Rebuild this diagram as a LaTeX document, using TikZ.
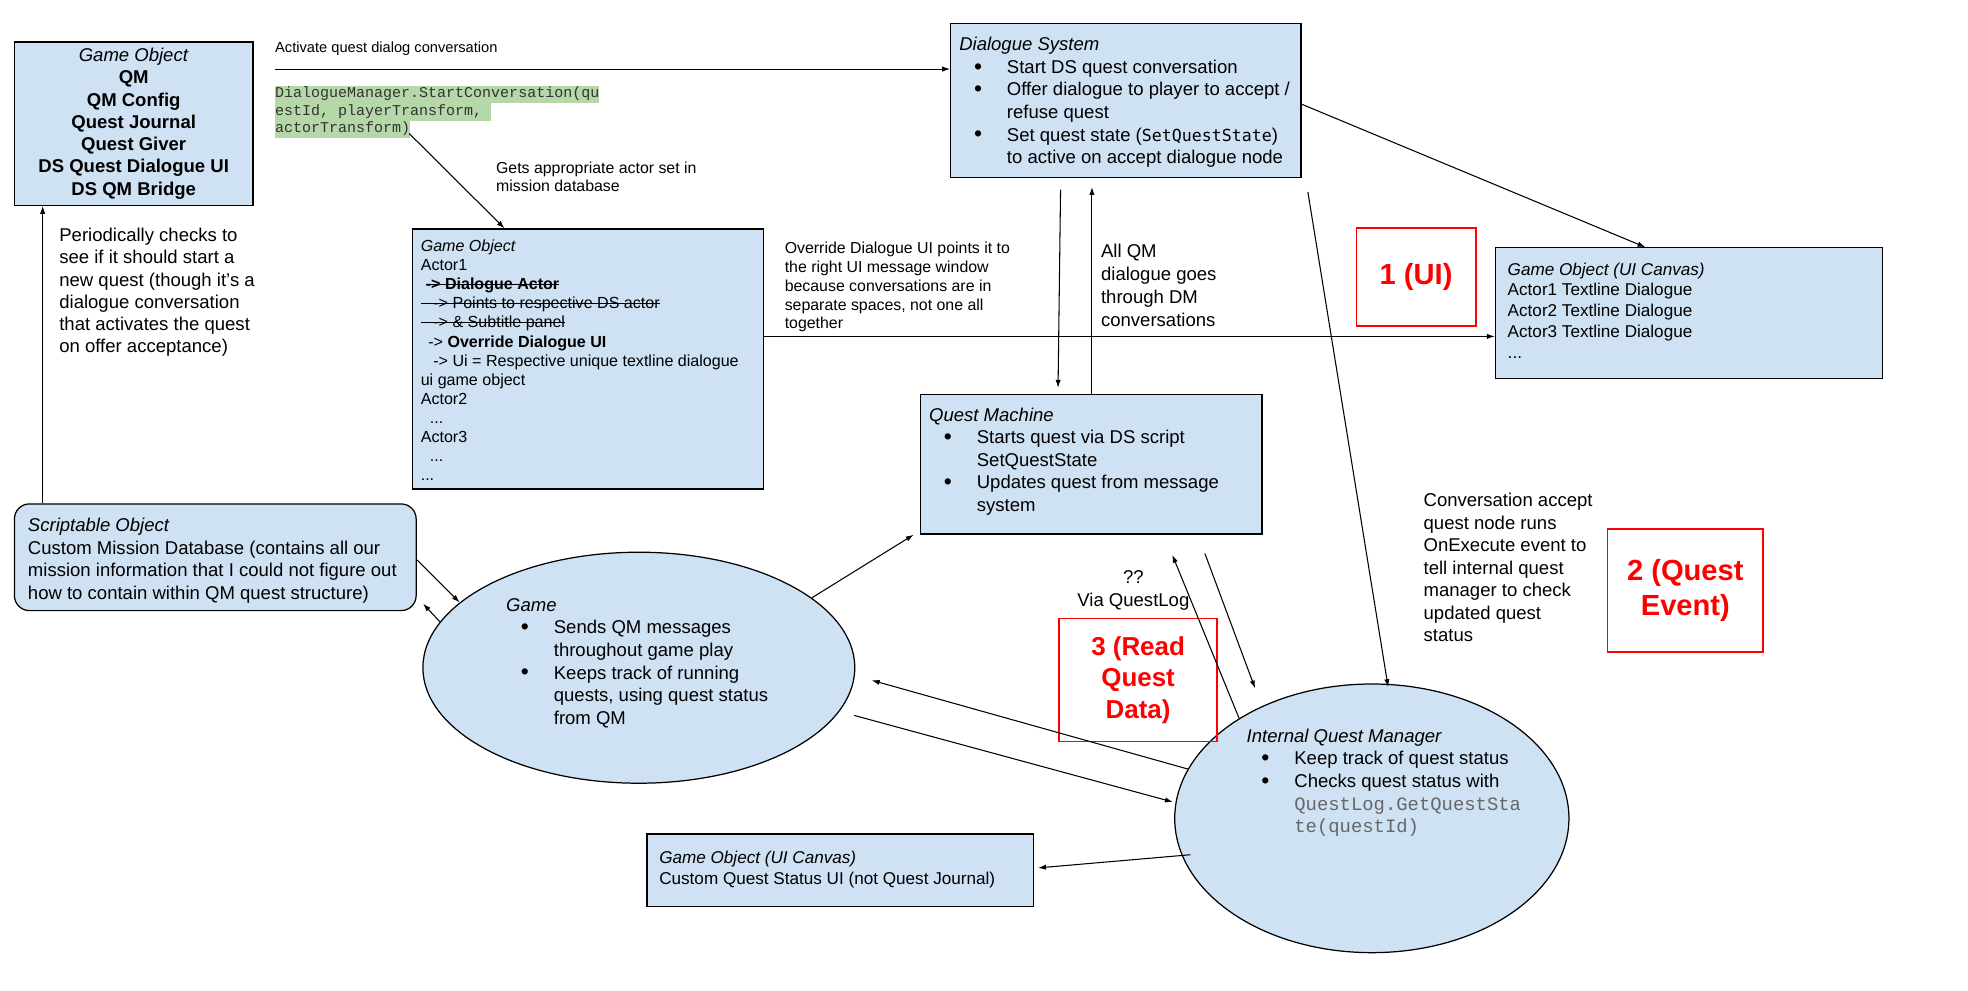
\documentclass[tikz,border=0pt]{standalone}
\usepackage{fontspec}
\setmainfont{Liberation Sans}
\setmonofont{Liberation Mono}
\newfontfamily\dsmono{DejaVu Sans Mono}
\usepackage{xcolor}
\usepackage{tikz}
\usetikzlibrary{shapes.geometric, arrows.meta, calc}

\definecolor{boxblue}{HTML}{CFE2F3}
\definecolor{codegreen}{HTML}{B6D7A8}
\definecolor{codegray}{HTML}{666666}
\definecolor{hlred}{HTML}{FF0000}

\newcommand{\bul}{\makebox[0.75cm][c]{\raisebox{-0.4pt}{\fontsize{13}{12.8}\selectfont\textbullet}}\hspace*{0.2cm}}
\newcommand{\ind}{\hspace*{0.95cm}}
\newcommand{\hlcode}[1]{{\setlength{\fboxsep}{0pt}\colorbox{codegreen}{\strut #1}}}
\newsavebox{\strkbox}
\newcommand{\strk}[1]{\sbox{\strkbox}{#1}\rlap{\rule[0.3em]{\wd\strkbox}{0.5pt}}\usebox{\strkbox}}

\begin{document}
\begin{tikzpicture}[
    x=0.025cm, y=-0.025cm,
    panel/.style={rectangle, draw, line width=0.7pt, fill=boxblue, anchor=north west, inner sep=0pt},
    oval/.style={ellipse, draw, line width=0.7pt, fill=boxblue, inner sep=0pt},
    tag/.style={rectangle, draw=hlred, line width=1.1pt, anchor=north west, inner sep=0pt,
                align=center, text=hlred, font=\fontsize{16.5}{19.9}\selectfont\bfseries},
    txt/.style={anchor=north west, inner sep=0pt, align=left, font=\fontsize{10.5}{12.8}\selectfont},
    small/.style={txt, font=\fontsize{9}{10.7}\selectfont},
    arrow/.style={-{Latex[length=4.5pt, width=3pt]}, line width=0.6pt}
]
\useasboundingbox (0,0) rectangle (1568,789);

% Top left: quest giver game object
\node[panel, minimum width=4.75cm, minimum height=3.25cm, align=center,
      font=\fontsize{10.5}{12.6}\selectfont] (go1) at (11,33)
    {\textit{Game Object}\\ \textbf{QM}\\ \textbf{QM Config}\\ \textbf{Quest Journal}\\
     \textbf{Quest Giver}\\ \textbf{DS Quest Dialogue UI}\\ \textbf{DS QM Bridge}};

% Dialogue System
\node[panel, minimum width=6.975cm, minimum height=3.075cm] (ds) at (757,18) {};
\node[txt] (ds-txt) at (764,29.5)
    {\textit{Dialogue System}\\
     \bul Start DS quest conversation\\
     \bul Offer dialogue to player to accept /\\
     \ind refuse quest\\
     \bul Set quest state ({\dsmono\fontsize{9.4}{12.8}\selectfont SetQuestState})\\
     \ind to active on accept dialogue node};

% Actor game object
\node[panel, minimum width=7cm, minimum height=5.175cm] (go2) at (328,182) {};
\node[txt, font=\fontsize{9.1}{10.8}\selectfont] (go2-txt) at (335,191)
    {\textit{Game Object}\\
     Actor1\\
     \hspace*{0.1cm}\strk{\textbf{-> Dialogue Actor}}\\
     \strk{\hspace*{0.25cm}-> Points to respective DS actor}\\
     \strk{\hspace*{0.25cm}-> \& Subtitle panel}\\
     \hspace*{0.15cm}-> \textbf{Override Dialogue UI}\\
     \hspace*{0.25cm}-> Ui = Respective unique textline dialogue\\
     ui game object\\
     Actor2\\
     \hspace*{0.18cm}...\\
     Actor3\\
     \hspace*{0.18cm}...\\
     ...};

% UI canvas with textlines
\node[panel, minimum width=7.7cm, minimum height=2.6cm] (go3) at (1191,197) {};
\node[txt, font=\fontsize{9.7}{11.8}\selectfont] (go3-txt) at (1201,209)
    {\textit{Game Object (UI Canvas)}\\ Actor1 Textline Dialogue\\ Actor2 Textline Dialogue\\
     Actor3 Textline Dialogue\\ ...};

% Quest Machine
\node[panel, minimum width=6.8cm, minimum height=2.775cm] (qm) at (733,314) {};
\node[txt] (qm-txt) at (740,324.5)
    {\textit{Quest Machine}\\
     \bul Starts quest via DS script\\
     \ind SetQuestState\\
     \bul Updates quest from message\\
     \ind system};

% Scriptable object
\node[panel, rounded corners=0.3cm, minimum width=8cm, minimum height=2.125cm] (so) at (11,401) {};
\node[txt] (so-txt) at (22,412.5)
    {\textit{Scriptable Object}\\
     Custom Mission Database (contains all our\\
     mission information that I could not figure out\\
     how to contain within QM quest structure)};

% Game
\node[oval, minimum width=8.6cm, minimum height=4.6cm] (game) at (509,532) {};
\node[txt] (game-txt) at (403,476.5)
    {\textit{Game}\\
     \bul Sends QM messages\\
     \ind throughout game play\\
     \bul Keeps track of running\\
     \ind quests, using quest status\\
     \ind from QM};

% Internal Quest Manager
\node[oval, minimum width=7.85cm, minimum height=5.35cm] (iqm) at (1093,652) {};
\node[txt] (iqm-txt) at (993,580.5)
    {\textit{Internal Quest Manager}\\
     \bul Keep track of quest status\\
     \bul Checks quest status with\\
     \ind {\ttfamily\fontsize{10.7}{12.8}\selectfont\color{codegray}QuestLog.GetQuestSta}\\
     \ind {\ttfamily\fontsize{10.7}{12.8}\selectfont\color{codegray}te(questId)}};

% Quest status UI
\node[panel, minimum width=7.7cm, minimum height=1.45cm] (go4) at (515,664) {};
\node[txt, font=\fontsize{9.7}{11.8}\selectfont] (go4-txt) at (525,678)
    {\textit{Game Object (UI Canvas)}\\ Custom Quest Status UI (not Quest Journal)};

% Red markers
\node[tag, minimum width=2.375cm, minimum height=1.95cm] (mark1) at (1080,181) {1 (UI)};
\node[tag, minimum width=3.1cm, minimum height=2.45cm] (mark2) at (1280,421) {2 (Quest\\Event)};
\node[tag, minimum width=3.15cm, minimum height=2.45cm, font=\fontsize{14.7}{17.8}\selectfont\bfseries]
    (mark3) at (843,492) {3 (Read\\Quest\\Data)};

% Free notes
\node[txt, font=\fontsize{8.3}{10}\selectfont] (act-lbl) at (219,32.7) {Activate quest dialog conversation};
\node[txt, font=\ttfamily\fontsize{8.5}{9.9}\selectfont, text=black!80] (code) at (219,68)
    {\hlcode{DialogueManager.StartConversation(qu}\\
     \hlcode{estId, playerTransform,\ }\\
     \hlcode{actorTransform)}};
\node[small] (gets) at (395,128.4) {Gets appropriate actor set in\\ mission database};
\node[small] (ovr-lbl) at (625,192.4)
    {Override Dialogue UI points it to\\ the right UI message window\\ because conversations are in\\
     separate spaces, not one all\\ together};
\node[txt, font=\fontsize{10.5}{13}\selectfont] (allqm) at (877,194.5)
    {All QM\\ dialogue goes\\ through DM\\ conversations};
\node[txt, font=\fontsize{10.5}{12.6}\selectfont] (periodic) at (47,181.5)
    {Periodically checks to\\ see if it should start a\\ new quest (though it’s a\\
     dialogue conversation\\ that activates the quest\\ on offer acceptance)};
\node[txt] (conv) at (1134,392.5)
    {Conversation accept\\ quest node runs\\ OnExecute event to\\ tell internal quest\\
     manager to check\\ updated quest\\ status};
\node[txt, anchor=north, align=center] (via) at (903,454.5) {??\\Via QuestLog};

% Arrows
\coordinate (act) at (219,55);
\draw[arrow] (act) -- (act -| ds.west);
\draw[arrow] ([shift={(107,-4)}]code.south west) -- ([shift={(74,0)}]go2.north west);
\draw[arrow] ([shift={(0,3)}]ds.east) -- ([shift={(120,0)}]go3.north west);
\coordinate (ovr) at ([shift={(0,-18)}]go2.east);
\draw[arrow] (ovr) -- (ovr -| go3.west);
\draw[arrow] ([shift={(88,9)}]ds.south west) -- ([shift={(110,-5)}]qm.north west);
\draw[arrow] ([shift={(137,0)}]qm.north west) -- ([shift={(113,7)}]ds.south west);
\draw[arrow] ([shift={(5,11)}]ds.south east) -- ([shift={(13,3)}]iqm.north);
\draw[arrow] (game.22) -- ([shift={(-5,0)}]qm.south west);
\draw[arrow] ([shift={(0,2)}]so.east) -- (game.160);
\draw[arrow] (game.167) -- ([shift={(5,-6)}]so.south east);
\draw[arrow] (iqm.143) -- ([shift={(201,16)}]qm.south west);
\draw[arrow] ([shift={(227,15)}]qm.south west) -- ([shift={(-93,4)}]iqm.north);
\draw[arrow] (iqm.165) -- ([shift={(13,10)}]game.east);
\draw[arrow] ([shift={(-1,38)}]game.east) -- ([shift={(-1,-13)}]iqm.west);
\draw[arrow] ([shift={(13,29)}]iqm.west) -- ([shift={(3,-2)}]go4.east);
\draw[arrow] ([shift={(23,0)}]so.north west) -- ([shift={(23,0)}]go1.south west);

\end{tikzpicture}
\end{document}
